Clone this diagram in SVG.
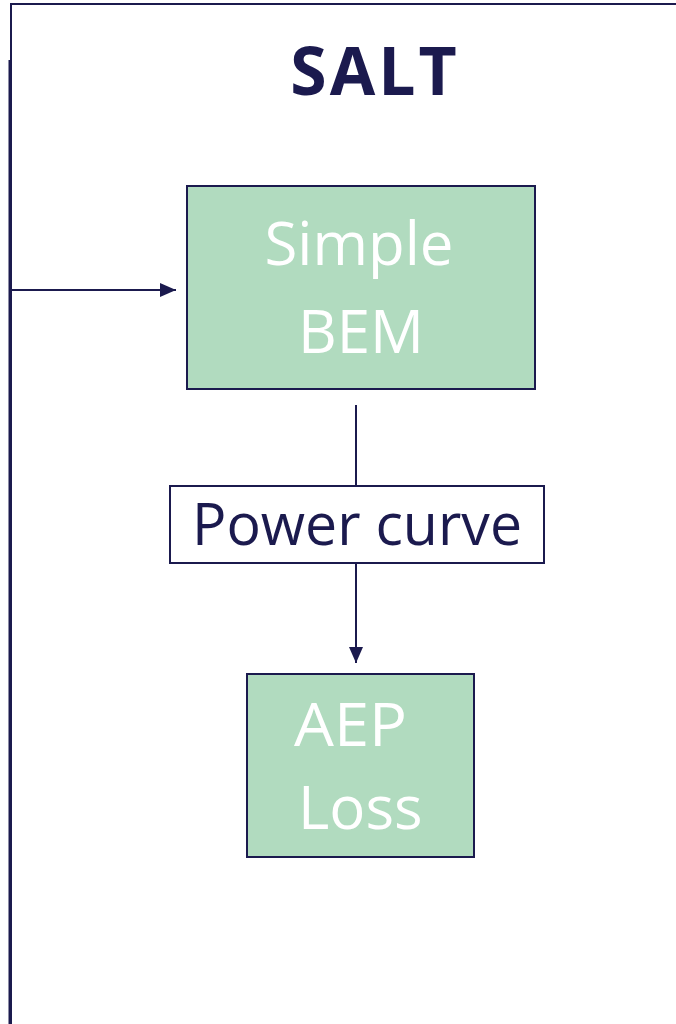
<svg xmlns="http://www.w3.org/2000/svg" width="676" height="1024" viewBox="0 0 676 1024">
<style>
.ln{stroke:#1b1a4e;stroke-width:2;fill:none}
.node{fill:#b1dbbf;stroke:#1b1a4e;stroke-width:2}
.wt{font-family:"Open Sans","Noto Sans",sans-serif;fill:#ffffff;font-size:60px}
.dk{font-family:"Open Sans","Noto Sans",sans-serif;fill:#1b1a4e}
</style>
<defs>
<marker id="ah" viewBox="0 0 16 14" refX="16" refY="7" markerWidth="16" markerHeight="14" markerUnits="userSpaceOnUse" orient="auto">
<path d="M0,0 L16,7 L0,14 Z" fill="#1b1a4e"/>
</marker>
</defs>
<rect width="676" height="1024" fill="#ffffff"/>
<g id="frame">
<path class="ln" d="M11,1024 V4 H676" stroke-width="3"/>
<line class="ln" x1="9.5" y1="60" x2="9.5" y2="1024" stroke-width="2"/>
</g>
<g id="title"><text class="dk" x="375" y="95" font-size="66" font-weight="bold" text-anchor="middle" letter-spacing="3">SALT</text></g>
<g id="connectors">
<line class="ln" x1="11" y1="290" x2="176" y2="290" marker-end="url(#ah)"/>
<line class="ln" x1="356" y1="405" x2="356" y2="486"/>
<line class="ln" x1="356" y1="563" x2="356" y2="663" marker-end="url(#ah)"/>
</g>
<g id="simple-bem">
<rect class="node" x="187" y="186" width="348" height="203"/>
<text class="wt" x="359" y="265" text-anchor="middle">Simple</text>
<text class="wt" x="361" y="353" text-anchor="middle">BEM</text>
</g>
<g id="power-curve">
<rect x="170" y="486" width="374" height="77" fill="#ffffff" stroke="#1b1a4e" stroke-width="2"/>
<text class="dk" x="357" y="545" font-size="58" text-anchor="middle" textLength="330" lengthAdjust="spacingAndGlyphs">Power curve</text>
</g>
<g id="aep-loss">
<rect class="node" x="247" y="674" width="227" height="183"/>
<text class="wt" x="294" y="746" textLength="113" lengthAdjust="spacingAndGlyphs">AEP</text>
<text class="wt" x="298" y="829">Loss</text>
</g>
</svg>
